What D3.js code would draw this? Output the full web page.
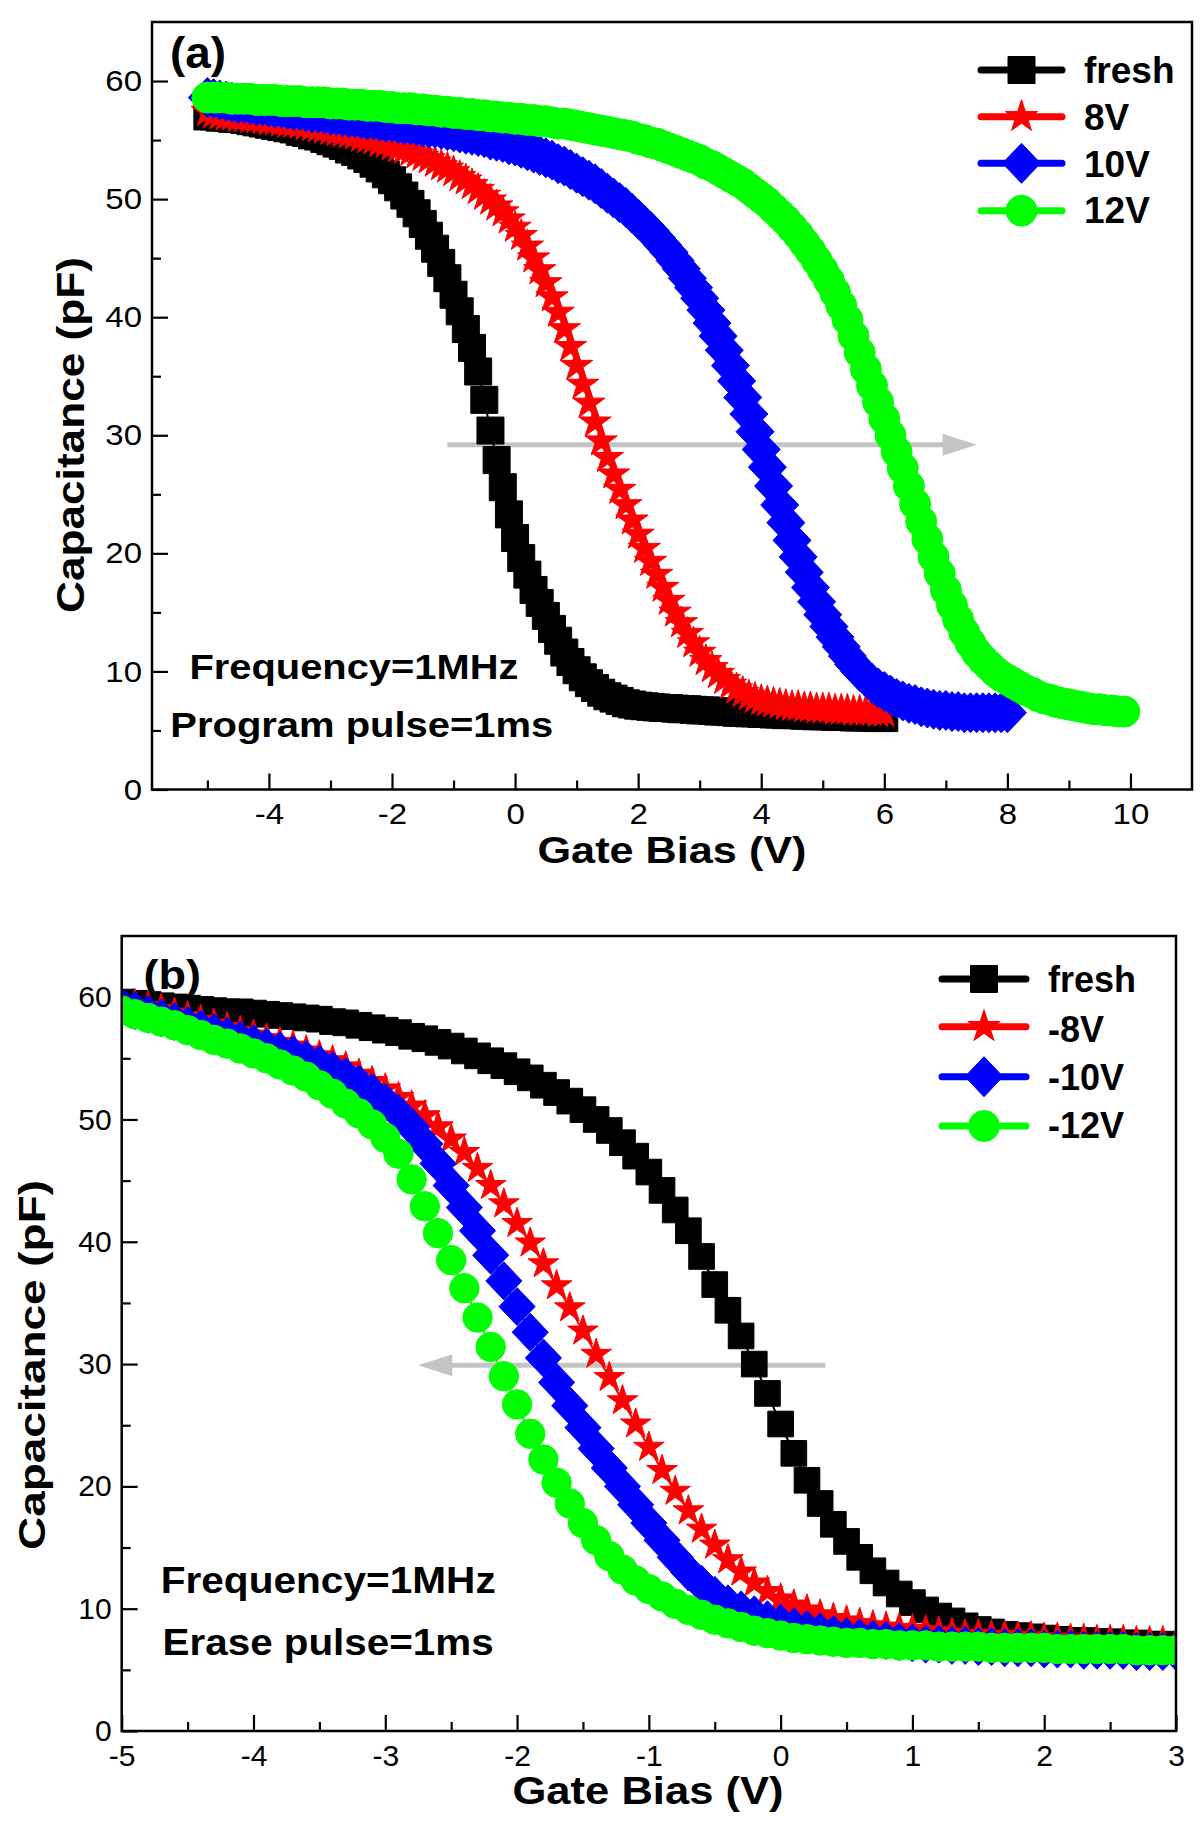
<!DOCTYPE html>
<html><head><meta charset="utf-8">
<script src="https://cdn.jsdelivr.net/npm/d3@7"></script>
<style>
body{margin:0;background:#fff}
svg{display:block}
text{font-family:"Liberation Sans",Arial,Helvetica,sans-serif;fill:#000}
</style>
</head><body>
<svg id="chart" width="1200" height="1839"></svg>
<script>
// ---------- DATA ----------
// Gate-bias sweep: start -5 V, step 0.1 V
const sweepStart = -5, sweepStep = 0.1;

// Panel (a): program
const xMajorA = [-4,-2,0,2,4,6,8,10];
const yMajor = [0,10,20,30,40,50,60];
const legendA = ["fresh","8V","10V","12V"];
const freshA = [57.0,57.0,56.9,56.9,56.8,56.8,56.7,56.6,56.5,56.4,
56.3,56.2,56.1,56.0,55.9,55.7,55.6,55.4,55.3,55.1,
54.9,54.7,54.5,54.2,54.0,53.7,53.4,53.0,52.6,52.1,
51.6,51.0,50.3,49.6,48.8,47.9,46.9,45.8,44.6,43.3,
41.9,40.5,39.0,37.4,35.4,33.0,30.4,27.9,25.6,23.3,
21.3,19.6,18.2,16.9,15.8,14.7,13.6,12.6,11.6,10.8,
10.1,9.5,9.0,8.6,8.2,7.9,7.7,7.5,7.3,7.2,
7.1,7.05,7.0,6.95,6.9,6.9,6.85,6.8,6.8,6.75,
6.7,6.7,6.65,6.6,6.6,6.55,6.5,6.5,6.45,6.45,
6.4,6.4,6.35,6.35,6.3,6.3,6.3,6.25,6.25,6.2,
6.2,6.2,6.15,6.15,6.15,6.1,6.1,6.1,6.1,6.05,
6.05];
const p8A = [57.4,57.2,57.1,57.0,57.0,56.9,56.9,56.8,56.8,56.7,
56.6,56.6,56.5,56.4,56.4,56.3,56.2,56.1,56.0,55.9,
55.8,55.7,55.6,55.5,55.4,55.2,55.1,55.0,54.8,54.7,
54.5,54.3,54.2,54.0,53.8,53.6,53.4,53.1,52.8,52.6,
52.3,51.9,51.6,51.2,50.8,50.3,49.9,49.4,48.9,48.3,
47.6,46.9,46.0,45.0,44.0,42.9,41.7,40.4,39.0,37.5,
35.9,34.3,32.7,31.1,29.5,28.1,26.7,25.4,24.1,22.8,
21.6,20.4,19.3,18.2,17.1,16.0,15.0,14.1,13.2,12.4,
11.6,10.9,10.3,9.8,9.3,8.9,8.5,8.2,7.9,7.7,
7.5,7.4,7.3,7.2,7.1,7.0,7.0,6.9,6.9,6.8,
6.8,6.8,6.7,6.7,6.7,6.6,6.6,6.6,6.6,6.5,
6.5];
const p10A = [58.6,58.5,58.4,58.3,58.2,58.1,58.1,58.0,57.9,57.9,
57.8,57.7,57.7,57.6,57.5,57.5,57.4,57.3,57.3,57.2,
57.1,57.1,57.0,56.9,56.9,56.8,56.7,56.7,56.6,56.5,
56.5,56.4,56.3,56.3,56.2,56.1,56.0,56.0,55.9,55.8,
55.7,55.6,55.5,55.4,55.3,55.2,55.0,54.9,54.8,54.6,
54.5,54.3,54.1,53.9,53.7,53.5,53.3,53.0,52.8,52.5,
52.2,51.9,51.6,51.3,50.9,50.5,50.1,49.7,49.3,48.8,
48.3,47.8,47.3,46.7,46.1,45.5,44.8,44.1,43.3,42.5,
41.6,40.6,39.5,38.4,37.2,35.9,34.6,33.2,31.8,30.3,
28.8,27.3,25.7,24.1,22.6,21.1,19.7,18.4,17.1,15.9,
14.8,13.8,12.9,12.1,11.3,10.6,10.0,9.5,9.0,8.6,
8.3,8.0,7.7,7.5,7.3,7.2,7.0,6.9,6.8,6.7,
6.7,6.6,6.6,6.5,6.5,6.5,6.5,6.5,6.5,6.5,
6.5];
const p12A = [58.6,58.6,58.6,58.6,58.5,58.5,58.5,58.5,58.4,58.4,
58.4,58.4,58.3,58.3,58.3,58.3,58.2,58.2,58.2,58.2,
58.1,58.1,58.1,58.0,58.0,58.0,57.9,57.9,57.9,57.8,
57.8,57.7,57.7,57.7,57.6,57.6,57.5,57.5,57.4,57.4,
57.3,57.3,57.2,57.2,57.1,57.1,57.0,57.0,56.9,56.9,
56.8,56.8,56.7,56.7,56.6,56.6,56.5,56.4,56.4,56.3,
56.2,56.1,56.0,55.9,55.8,55.7,55.6,55.5,55.4,55.3,
55.1,55.0,54.8,54.7,54.5,54.3,54.1,53.9,53.7,53.5,
53.3,53.0,52.8,52.5,52.2,51.9,51.6,51.3,50.9,50.5,
50.1,49.7,49.2,48.7,48.2,47.6,47.0,46.3,45.6,44.8,
44.0,43.1,42.1,41.0,39.8,38.4,37.0,35.6,34.2,32.8,
31.4,30.0,28.6,27.2,25.7,24.2,22.7,21.2,19.7,18.3,
16.9,15.6,14.4,13.3,12.4,11.6,11.0,10.5,10.0,9.6,
9.3,9.0,8.7,8.4,8.2,7.9,7.7,7.6,7.4,7.3,
7.2,7.1,7.0,6.9,6.8,6.8,6.7,6.7,6.6,6.6];

// Panel (b): erase
const xMajorB = [-5,-4,-3,-2,-1,0,1,2,3];
const legendB = ["fresh","-8V","-10V","-12V"];
const freshB = [59.6,59.5,59.4,59.3,59.2,59.1,59.0,58.9,58.8,58.8,
58.7,58.6,58.5,58.4,58.3,58.2,58.0,57.9,57.7,57.5,
57.3,57.1,56.8,56.6,56.3,56.0,55.6,55.2,54.8,54.4,
53.9,53.4,52.8,52.2,51.5,50.8,50.0,49.1,48.1,47.0,
45.7,44.2,42.6,40.9,38.8,36.5,34.4,32.3,30.0,27.6,
25.1,22.7,20.5,18.6,16.9,15.5,14.2,13.1,12.1,11.2,
10.5,9.9,9.4,9.0,8.6,8.3,8.1,7.9,7.8,7.7,
7.6,7.5,7.4,7.4,7.3,7.3,7.2,7.2,7.1,7.1,
7.0];
const m8B = [59.6,59.4,59.2,59.0,58.7,58.4,58.1,57.8,57.5,57.2,
56.9,56.6,56.3,56.0,55.6,55.2,54.8,54.3,53.7,53.1,
52.5,51.8,51.1,50.3,49.4,48.4,47.3,46.0,44.6,43.1,
41.5,39.9,38.2,36.4,34.6,32.7,30.8,28.9,27.0,25.1,
23.2,21.3,19.6,18.0,16.5,15.2,14.0,13.0,12.1,11.4,
10.8,10.3,9.9,9.5,9.2,9.0,8.8,8.6,8.5,8.4,
8.3,8.2,8.1,8.0,7.9,7.9,7.8,7.8,7.7,7.7,
7.6,7.6,7.5,7.5,7.4,7.4,7.4,7.3,7.3,7.3,
7.2];
const m10B = [59.2,58.9,58.6,58.3,58.0,57.7,57.4,57.1,56.8,56.5,
56.2,55.9,55.6,55.3,54.9,54.5,54.0,53.5,52.9,52.2,
51.4,50.5,49.4,48.0,46.4,44.6,42.8,40.9,38.9,36.8,
34.7,32.6,30.5,28.5,26.6,24.8,23.1,21.5,20.0,18.5,
17.0,15.6,14.2,13.0,12.0,11.1,10.4,9.9,9.5,9.1,
8.8,8.5,8.3,8.1,7.9,7.7,7.6,7.5,7.4,7.3,
7.2,7.1,7.1,7.0,7.0,6.9,6.9,6.8,6.8,6.8,
6.7,6.7,6.7,6.6,6.6,6.6,6.6,6.5,6.5,6.5,
6.5];
const m12B = [58.9,58.6,58.3,58.0,57.7,57.3,56.9,56.5,56.2,55.8,
55.4,55.0,54.5,54.0,53.5,52.8,52.1,51.3,50.5,49.6,
48.5,47.2,45.1,42.9,40.7,38.5,36.2,33.8,31.4,29.0,
26.7,24.3,22.2,20.3,18.6,17.0,15.6,14.3,13.2,12.3,
11.6,11.0,10.4,9.9,9.5,9.1,8.8,8.5,8.2,8.0,
7.8,7.6,7.5,7.4,7.3,7.2,7.2,7.1,7.1,7.0,
7.0,7.0,6.9,6.9,6.9,6.9,6.8,6.8,6.8,6.8,
6.8,6.7,6.7,6.7,6.7,6.7,6.7,6.6,6.6,6.6,
6.6];

// ---------- DRAW ----------
const svg = d3.select("#chart");
const colors = ["#000000","#ff0000","#0000ff","#00ff00"];
const shapes = ["square","star","diamond","circle"];

function symbolPath(shape, k){
  k = k || 1;
  if(shape==="square"){const h=13.5*k;return `M${-h},${-h}H${h}V${h}H${-h}Z`;}
  if(shape==="diamond"){const w=19*k,h=20*k;return `M0,${-h}L${w},0L0,${h}L${-w},0Z`;}
  if(shape==="circle"){return d3.symbol(d3.symbolCircle, Math.PI*Math.pow(15.5*k,2))();}
  const R=17*k; return d3.symbol(d3.symbolStar, R*R/0.8908130915292852)();
}

function stretchText(sel, f){
  sel.each(function(){
    const w=this.getComputedTextLength();
    d3.select(this).attr("textLength", w*f).attr("lengthAdjust","spacingAndGlyphs");
  });
}

function panel(cfg){
  const g = svg.append("g");
  const x = d3.scaleLinear().domain(cfg.xDomain).range([cfg.left, cfg.right]);
  const y = d3.scaleLinear().domain([0,65]).range([cfg.bottom, cfg.top]);
  const id = "clip"+cfg.key;
  svg.append("defs").append("clipPath").attr("id",id)
    .append("rect").attr("x",cfg.left).attr("y",cfg.top)
    .attr("width",cfg.right-cfg.left).attr("height",cfg.bottom-cfg.top);

  // minor ticks
  g.append("g").attr("transform",`translate(0,${cfg.bottom})`)
    .call(d3.axisBottom(x).tickValues(cfg.xMinor).tickSize(-9).tickFormat(""));
  g.append("g").attr("transform",`translate(${cfg.left},0)`)
    .call(d3.axisLeft(y).tickValues([5,15,25,35,45,55]).tickSize(-9).tickFormat(""));
  // major ticks
  g.append("g").attr("transform",`translate(0,${cfg.bottom})`)
    .call(d3.axisBottom(x).tickValues(cfg.xMajor).tickSize(-16).tickPadding(cfg.xPad).tickFormat(d=>String(d)));
  g.append("g").attr("transform",`translate(${cfg.left},0)`)
    .call(d3.axisLeft(y).tickValues(yMajor).tickSize(-16).tickPadding(10).tickFormat(d=>String(d)));
  g.selectAll(".domain").remove();
  g.selectAll(".tick line").attr("stroke","#000").attr("stroke-width",2.2);
  g.selectAll(".tick text").attr("font-size",cfg.tickFont).attr("fill","#000")
    .style("font-family",'"Liberation Sans",Arial,sans-serif');
  stretchText(g.selectAll(".tick text"), cfg.tickStretch);

  // arrow
  const ay = y(cfg.arrow.y), ax0 = x(cfg.arrow.from), ax1 = x(cfg.arrow.to);
  const dir = Math.sign(ax1-ax0);
  g.append("line").attr("x1",ax0).attr("x2",ax1-dir*30).attr("y1",ay).attr("y2",ay)
    .attr("stroke","#c4c4c4").attr("stroke-width",5);
  g.append("path").attr("d",`M${ax1},${ay}L${ax1-dir*34},${ay-11}L${ax1-dir*34},${ay+11}Z`)
    .attr("fill","#c4c4c4");

  // series
  const dg = g.append("g").attr("clip-path",`url(#${id})`);
  cfg.series.forEach((vals,i)=>{
    const pts = vals.map((v,j)=>[sweepStart + j*sweepStep, v]);
    dg.append("path").datum(pts)
      .attr("d", d3.line().x(d=>x(d[0])).y(d=>y(d[1])))
      .attr("fill","none").attr("stroke",colors[i]).attr("stroke-width",2);
    dg.append("g").selectAll("path").data(pts).join("path")
      .attr("transform",d=>`translate(${x(d[0])},${y(d[1])})`)
      .attr("d",symbolPath(shapes[i], cfg.markScale))
      .attr("fill",colors[i]).attr("stroke",colors[i]).attr("stroke-width",1);
  });

  // frame
  g.append("rect").attr("x",cfg.left).attr("y",cfg.top)
    .attr("width",cfg.right-cfg.left).attr("height",cfg.bottom-cfg.top)
    .attr("fill","none").attr("stroke","#000").attr("stroke-width",2.5);

  // legend
  const L = cfg.legend;
  cfg.names.forEach((n,i)=>{
    const ly = L.lineY[i];
    g.append("line").attr("x1",L.x0).attr("x2",L.x1).attr("y1",ly).attr("y2",ly)
      .attr("stroke",colors[i]).attr("stroke-width",7).attr("stroke-linecap","round");
    g.append("path").attr("transform",`translate(${(L.x0+L.x1)/2},${ly})`)
      .attr("d",symbolPath(shapes[i],1)).attr("fill",colors[i]).attr("stroke",colors[i]);
    g.append("text").attr("x",L.tx).attr("y",L.base[i]).attr("font-size",L.font)
      .attr("font-weight","bold").text(n);
  });

  // texts
  cfg.texts.forEach(t=>{
    const el = g.append("text").attr("font-weight","bold").attr("font-size",t.size)
      .attr("text-anchor",t.anchor||"start").text(t.s);
    if(t.rot){ el.attr("transform",`translate(${t.x},${t.y}) rotate(-90)`); }
    else { el.attr("x",t.x).attr("y",t.y); }
    if(t.len) el.attr("textLength",t.len).attr("lengthAdjust","spacingAndGlyphs");
  });
}

panel({
  key:"a", left:152, right:1192, top:22, bottom:789.5,
  xDomain:[-5.9,11], xMajor:xMajorA, xMinor:[-5,-3,-1,1,3,5,7,9],
  tickFont:30, tickStretch:1.1, xPad:13, markScale:1,
  series:[freshA,p8A,p10A,p12A], names:legendA,
  arrow:{from:-1.1, to:7.5, y:29.2},
  legend:{x0:981,x1:1062,tx:1084,font:37,lineY:[70,116.7,163.3,210.7],base:[82.7,130,176.7,223.3]},
  texts:[
    {s:"(a)",x:170,y:67.5,size:44,len:56},
    {s:"Capacitance (pF)",x:83.5,y:435,size:38,anchor:"middle",rot:true,len:356},
    {s:"Gate Bias (V)",x:672,y:863,size:37,anchor:"middle",len:269},
    {s:"Frequency=1MHz",x:189.4,y:678.5,size:35,len:329},
    {s:"Program pulse=1ms",x:170.3,y:737,size:35,len:383}
  ]
});

panel({
  key:"b", left:121.7, right:1176, top:936, bottom:1731,
  xDomain:[-5,3], xMajor:xMajorB, xMinor:[-4.5,-3.5,-2.5,-1.5,-0.5,0.5,1.5,2.5],
  tickFont:30, tickStretch:1.0, xPad:14, markScale:0.95,
  series:[freshB,m8B,m10B,m12B], names:legendB,
  arrow:{from:0.34, to:-2.75, y:29.9},
  legend:{x0:942,x1:1026,tx:1048,font:36,lineY:[979,1026.7,1076.7,1126],base:[991.7,1041.7,1090,1138.3]},
  texts:[
    {s:"(b)",x:143.5,y:989,size:41,len:57.5},
    {s:"Capacitance (pF)",x:45,y:1365,size:36,anchor:"middle",rot:true,len:370},
    {s:"Gate Bias (V)",x:648,y:1804,size:39,anchor:"middle",len:271},
    {s:"Frequency=1MHz",x:160.7,y:1593,size:37,len:335},
    {s:"Erase pulse=1ms",x:162.6,y:1655,size:37,len:331}
  ]
});
</script>
</body></html>
